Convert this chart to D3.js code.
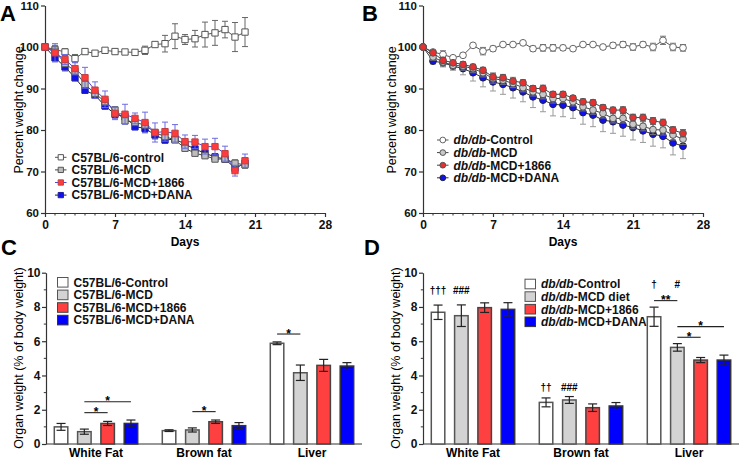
<!DOCTYPE html>
<html><head><meta charset="utf-8">
<script src="https://cdn.jsdelivr.net/npm/d3@7"></script>
<style>body{margin:0;background:#fff} svg{display:block;font-family:"Liberation Sans",Arial,sans-serif}</style>
</head><body><svg id="c" width="740" height="459"></svg>
<script>
// ---------- DATA ----------
const daysA = [0,1,2,3,4,5,6,7,8,9,10,11,12,13,14,15,16,17,18,19,20];
const daysB = [0,1,2,3,4,5,6,7,8,9,10,11,12,13,14,15,16,17,18,19,20,21,22,23,24,25,26];
const dayTicks = [0,7,14,21,28];
const pctTicks = [60,70,80,90,100,110];

const namesA = ["C57BL/6-control","C57BL/6-MCD","C57BL/6-MCD+1866","C57BL/6-MCD+DANA"];
const ctrlA = [100,99.4,98.8,97.2,98.9,98.5,99.2,98.9,98.8,98.7,99.2,100.6,100.8,102.6,101.8,102,103,103.4,104.2,102.4,103.6];
const ctrlAErr = [0,1,0.8,1,0.4,0.3,0.4,0.5,0.5,0.5,1,0.5,2,3,1.2,2,3,3,2,3.5,3.5];
const mcdA = [100,99,96,94.2,91,88.8,86.8,84.8,82.2,81.8,81.2,79.4,78.4,77.6,75.6,74.4,73.8,73,73,72,71.6];
const mcdAErr = [0,0.5,0.7,0.8,0.8,0.8,0.8,0.8,0.6,0.6,0.6,0.6,0.6,0.6,0.5,0.5,0.5,0.6,0.6,0.8,0.8];
const r1866A = [100,98.6,97,94.8,92.6,89.6,87.4,84,83.8,82.8,81.8,79.4,79.6,79.2,77.2,77.1,76,76,74.3,70.2,72.6];
const r1866AErr = [0,2.2,1.2,1.5,2.5,2,2,1.5,2.4,1.3,2.5,2.3,2.3,2.1,1.6,1.6,1.8,2,1.8,1.3,1.6];
const danaA = [100,97.4,95.2,92.6,89.6,88.4,85.8,83.8,83.2,80.8,80.4,78.8,77.6,77.8,76.6,75.4,74.4,73.5,73,70.8,72];
const danaAErr = [0,0.8,1,0.8,0.8,0.8,0.8,1,1,0.8,1,1,0.8,0.8,0.8,0.8,0.8,0.8,0.8,1,1];

const namesB = ["-Control","-MCD","-MCD+1866","-MCD+DANA"];
const ctrlB = [100,98.8,98.2,97.4,98,100.4,99,99.6,100.6,100.6,101,99.6,99.8,99.8,99.8,99.6,100.6,100.6,100,100.4,100.6,100,100.6,100,101.6,100,99.8];
const ctrlBErr = [0,0.5,0.9,0.5,0.5,0.3,0.9,0.6,0.3,0.5,0.3,0.6,0.8,0.8,0.6,0.5,0.3,0.3,0.5,0.6,0.7,0.8,0.6,0.9,1,0.9,0.8];
const mcdB = [100,97.6,96.4,95.6,95.4,94.8,93.8,92.4,92,91.2,90.2,89.2,88.6,87.6,87.6,86.8,85.6,84.8,84,82.8,82.8,81.4,80.9,80.1,80,78.8,77.8];
const mcdBErr = [0,0.8,1,0.9,1,1,1,1.1,1,1,1,1,1.1,1.1,1,1,1,1,1.1,1.1,1.1,1.1,1.1,1.2,1.2,1.2,1.3];
const r1866B = [100,98.6,96.8,96.2,95.8,95.2,94.4,92.8,92.6,91.8,91.4,90,90,88.6,88.6,87.7,86.8,86.6,85.4,84.8,84.8,83,83,82.2,81.8,80,79.2];
const r1866BErr = [0,0.6,0.7,0.6,0.6,0.6,0.7,0.7,0.7,0.7,0.7,0.7,0.8,0.7,0.7,0.6,0.7,0.7,0.7,0.7,0.8,0.8,0.8,0.8,0.8,0.8,0.9];
const danaB = [100,96.6,96.2,95.4,94.8,93.8,92.6,91.6,91,90.2,89.2,88,87.2,86.2,86,85.4,84.2,83.6,82.4,82,81.2,80.6,79.8,79,78.5,76.9,76.1];
const danaBErr = [0,0.7,1,1,1.5,2,2.2,2.2,2.4,2.5,2.4,2.6,2.8,2.8,2.8,2.6,2.8,2.8,2.8,2.8,2.7,3,2.8,2.9,2.8,2.9,3];

const organs = ["White Fat","Brown fat","Liver"];
const organTicks = [0,2,4,6,8,10];
const namesC = ["C57BL/6-Control","C57BL/6-MCD","C57BL/6-MCD+1866","C57BL/6-MCD+DANA"];
const ctrlC = [1.0,0.78,5.88],   ctrlCErr = [0.2,0.05,0.08];
const mcdC = [0.72,0.82,4.16],   mcdCErr = [0.15,0.12,0.45];
const r1866C = [1.2,1.3,4.59],   r1866CErr = [0.12,0.1,0.35];
const danaC = [1.2,1.07,4.55],   danaCErr = [0.2,0.18,0.2];
const sigC = [{g:0,a:1,b:2,level:1.83,t:"*"},{g:0,a:1,b:3,level:2.47,t:"*"},{g:1,a:1,b:2,level:1.89,t:"*"},{g:2,a:0,b:1,level:6.42,t:"*"}];

const namesD = ["-Control","-MCD diet","-MCD+1866","-MCD+DANA"];
const ctrlD = [7.69,2.43,7.43],  ctrlDErr = [0.42,0.26,0.56];
const mcdD = [7.49,2.57,5.64],   mcdDErr = [0.63,0.2,0.22];
const r1866D = [7.96,2.12,4.9],  r1866DErr = [0.28,0.22,0.15];
const danaD = [7.86,2.22,4.9],   danaDErr = [0.39,0.2,0.29];
const sigD = [{g:2,a:0,b:1,level:8.37,t:"**"},{g:2,a:1,b:2,level:6.23,t:"*"},{g:2,a:1,b:3,level:6.85,t:"*"}];
const marksD = [{g:0,s:0,level:8.76,t:"†††"},{g:0,s:1,level:8.76,t:"###"},{g:1,s:0,level:3.12,t:"††"},{g:1,s:1,level:3.12,t:"###"},{g:2,s:0,level:9.12,t:"†"},{g:2,s:1,level:9.12,t:"#"}];

// ---------- DRAW ----------
const svg = d3.select("#c");
const FF = '"Liberation Sans",Arial,sans-serif';
const AX = "#333";

function styleAxis(g, fs){
  g.attr("font-family", FF).attr("font-size", fs).attr("font-weight","bold");
  g.selectAll("path.domain").attr("stroke", AX).attr("stroke-width",1.2);
  g.selectAll(".tick line").attr("stroke", AX).attr("stroke-width",1.2);
  g.selectAll("text").attr("fill","#111");
}

function panelLabel(t,x,y){
  svg.append("text").attr("x",x).attr("y",y).attr("font-size",22).attr("font-weight","bold").attr("font-family",FF).text(t);
}

function lineChart(cfg){
  const x = d3.scaleLinear().domain([0,28]).range([cfg.x0, cfg.x0+280]);
  const y = d3.scaleLinear().domain([60,110]).range([213,5.5]);
  const g = svg.append("g");
  const ya = g.append("g").attr("transform",`translate(${cfg.x0},0)`)
    .call(d3.axisLeft(y).tickValues(pctTicks).tickSize(4).tickPadding(2).tickSizeOuter(0));
  styleAxis(ya,11.5);
  const xa = g.append("g").attr("transform",`translate(0,213)`)
    .call(d3.axisBottom(x).tickValues(dayTicks).tickSize(4).tickPadding(3).tickSizeOuter(0));
  styleAxis(xa,12);
  xa.selectAll("line.minor").data(d3.range(0,29).filter(d=>d%7)).enter().append("line")
    .attr("x1",d=>x(d)).attr("x2",d=>x(d)).attr("y1",0).attr("y2",2.5).attr("stroke",AX).attr("stroke-width",1);
  g.append("text").attr("x",cfg.x0+140).attr("y",246).attr("text-anchor","middle")
    .attr("font-size",12).attr("font-weight","bold").attr("font-family",FF).text("Days");
  g.append("text").attr("transform",`translate(${cfg.tx},110) rotate(-90)`).attr("text-anchor","middle")
    .attr("font-size",12.5).attr("font-family",FF).text("Percent weight change");

  cfg.order.forEach(i=>{
    const s = cfg.series[i];
    const pts = cfg.days.map((d,k)=>({d, v:s.v[k], e:s.e[k]}));
    const eg = g.append("g").attr("stroke", s.errColor).attr("stroke-width",1);
    pts.filter(p=>p.e>0).forEach(p=>{
      eg.append("line").attr("x1",x(p.d)).attr("x2",x(p.d)).attr("y1",y(p.v+p.e)).attr("y2",y(p.v-p.e));
      eg.append("line").attr("x1",x(p.d)-3).attr("x2",x(p.d)+3).attr("y1",y(p.v+p.e)).attr("y2",y(p.v+p.e));
      eg.append("line").attr("x1",x(p.d)-3).attr("x2",x(p.d)+3).attr("y1",y(p.v-p.e)).attr("y2",y(p.v-p.e));
    });
    g.append("path").datum(pts).attr("fill","none").attr("stroke",s.lineColor).attr("stroke-width",1)
      .attr("d", d3.line().x(p=>x(p.d)).y(p=>y(p.v)));
    const sym = d3.symbol().type(cfg.shape==="square"?d3.symbolSquare:d3.symbolCircle).size(cfg.shape==="square"?40:36);
    g.append("g").selectAll("path").data(pts).enter().append("path")
      .attr("transform",p=>`translate(${x(p.d)},${y(p.v)})`).attr("d",sym)
      .attr("fill",s.fill).attr("stroke",s.stroke).attr("stroke-width",1);
  });
  const lg = g.append("g");
  cfg.series.forEach((s,i)=>{
    const yy = cfg.ly + i*12.6;
    lg.append("line").attr("x1",cfg.lx).attr("x2",cfg.lx+11.5).attr("y1",yy).attr("y2",yy).attr("stroke",s.lineColor).attr("stroke-width",1);
    const sym = d3.symbol().type(cfg.shape==="square"?d3.symbolSquare:d3.symbolCircle).size(cfg.shape==="square"?28:26);
    lg.append("path").attr("transform",`translate(${cfg.lx+5.8},${yy})`).attr("d",sym)
      .attr("fill",s.fill).attr("stroke",s.stroke).attr("stroke-width",1);
    const t = lg.append("text").attr("x",cfg.lx+16.5).attr("y",yy+4.3).attr("font-size",12).attr("font-weight","bold").attr("font-family",FF).attr("fill","#111");
    if(cfg.italicPrefix){ t.append("tspan").attr("font-style","italic").text(cfg.italicPrefix); }
    t.append("tspan").text(s.name);
  });
}

lineChart({x0:45, tx:23, days:daysA, shape:"square", lx:55, ly:157.3, order:[0,3,1,2],
  series:[
    {name:namesA[0], v:ctrlA, e:ctrlAErr, fill:"#fff", stroke:"#555", lineColor:"#555", errColor:"#666"},
    {name:namesA[1], v:mcdA, e:mcdAErr, fill:"#bdbdbd", stroke:"#555", lineColor:"#444", errColor:"#666"},
    {name:namesA[2], v:r1866A, e:r1866AErr, fill:"#ff3b3b", stroke:"#c04040", lineColor:"#4a4ad0", errColor:"#6b6be0"},
    {name:namesA[3], v:danaA, e:danaAErr, fill:"#1010f0", stroke:"#2020a0", lineColor:"#222", errColor:"#6b6be0"}
  ]});

lineChart({x0:423, tx:396, days:daysB, shape:"circle", lx:437, ly:140, order:[0,3,1,2], italicPrefix:"db/db",
  series:[
    {name:namesB[0], v:ctrlB, e:ctrlBErr, fill:"#fff", stroke:"#666", lineColor:"#555", errColor:"#777"},
    {name:namesB[1], v:mcdB, e:mcdBErr, fill:"#c8c8c8", stroke:"#555", lineColor:"#444", errColor:"#777"},
    {name:namesB[2], v:r1866B, e:r1866BErr, fill:"#e83030", stroke:"#555", lineColor:"#444", errColor:"#666"},
    {name:namesB[3], v:danaB, e:danaBErr, fill:"#1010f0", stroke:"#223", lineColor:"#333", errColor:"#999"}
  ]});

function barChart(cfg){
  const y = d3.scaleLinear().domain([0,10]).range([444,272.7]);
  const gx = d3.scalePoint().domain(organs).range([cfg.x0+50, cfg.x0+266]);
  const sx = d3.scaleBand().domain([0,1,2,3]).range([-46.6,46.6]).paddingInner(0.356).paddingOuter(0.178);
  const g = svg.append("g");
  const ya = g.append("g").attr("transform",`translate(${cfg.x0},0)`)
    .call(d3.axisLeft(y).tickValues(organTicks).tickSize(4).tickPadding(1.5).tickSizeOuter(0));
  styleAxis(ya,12);
  ya.selectAll("line.minor").data([1,3,5,7,9]).enter().append("line")
    .attr("x1",0).attr("x2",-2.2).attr("y1",d=>y(d)).attr("y2",d=>y(d)).attr("stroke",AX).attr("stroke-width",1);
  g.append("line").attr("x1",cfg.x0).attr("x2",cfg.x0+316).attr("y1",444).attr("y2",444).attr("stroke",AX).attr("stroke-width",1.2);
  g.append("text").attr("transform",`translate(${cfg.x0-23},358) rotate(-90)`).attr("text-anchor","middle")
    .attr("font-size",12.5).attr("font-family",FF).text("Organ weight (% of body weight)");
  organs.forEach(o=>{
    g.append("text").attr("x",gx(o)).attr("y",456.5).attr("text-anchor","middle").attr("font-size",12)
      .attr("font-weight","bold").attr("font-family",FF).text(o);
  });
  cfg.series.forEach((s,i)=>{
    organs.forEach((o,k)=>{
      const cx = gx(o)+sx(i);
      g.append("rect").attr("x",cx+0.75).attr("y",y(s.v[k])).attr("width",sx.bandwidth()-1.5).attr("height",444-y(s.v[k]))
        .attr("fill",s.fill).attr("stroke",s.stroke).attr("stroke-width",1.5);
      const m = cx+sx.bandwidth()/2, t=y(s.v[k]+s.e[k]), b=y(s.v[k]-s.e[k]);
      const eg = g.append("g").attr("stroke","#222").attr("stroke-width",1.2);
      eg.append("line").attr("x1",m).attr("x2",m).attr("y1",t).attr("y2",b);
      eg.append("line").attr("x1",m-4.5).attr("x2",m+4.5).attr("y1",t).attr("y2",t);
      eg.append("line").attr("x1",m-4.5).attr("x2",m+4.5).attr("y1",b).attr("y2",b);
    });
  });
  const center = (gi,si)=>gx(organs[gi])+sx(si)+sx.bandwidth()/2;
  cfg.sig.forEach(s=>{
    const x1=center(s.g,s.a), x2=center(s.g,s.b), yy=y(s.level);
    g.append("line").attr("x1",x1).attr("x2",x2).attr("y1",yy).attr("y2",yy).attr("stroke","#222").attr("stroke-width",1.1);
    g.append("text").attr("x",(x1+x2)/2).attr("y",yy+3.5).attr("text-anchor","middle").attr("font-size",12)
      .attr("font-weight","bold").attr("font-family",FF).text(s.t);
  });
  (cfg.marks||[]).forEach(s=>{
    g.append("text").attr("x",center(s.g,s.s)).attr("y",y(s.level)).attr("text-anchor","middle").attr("font-size",10)
      .attr("font-weight","bold").attr("font-family",FF).text(s.t);
  });
  cfg.series.forEach((s,i)=>{
    const yy = cfg.ly + i*cfg.lstep;
    g.append("rect").attr("x",cfg.lx).attr("y",yy-4.8).attr("width",10.5).attr("height",9.6)
      .attr("fill",s.fill).attr("stroke",s.stroke).attr("stroke-width",1);
    const t = g.append("text").attr("x",cfg.lx+16).attr("y",yy+4.3).attr("font-size",12).attr("font-weight","bold").attr("font-family",FF).attr("fill","#111");
    if(cfg.italicPrefix) t.append("tspan").attr("font-style","italic").text(cfg.italicPrefix);
    t.append("tspan").text(s.name);
  });
}

const barStyles = [
  {fill:"#fff", stroke:"#555"},{fill:"#d3d3d3", stroke:"#555"},{fill:"#ff4040", stroke:"#444"},{fill:"#0000ff", stroke:"#333"}
];
barChart({x0:46, lx:57.5, ly:282.3, lstep:12.6, sig:sigC,
  series:[
    Object.assign({name:namesC[0], v:ctrlC, e:ctrlCErr}, barStyles[0]),
    Object.assign({name:namesC[1], v:mcdC, e:mcdCErr}, barStyles[1]),
    Object.assign({name:namesC[2], v:r1866C, e:r1866CErr}, barStyles[2]),
    Object.assign({name:namesC[3], v:danaC, e:danaCErr}, barStyles[3])
  ]});
barChart({x0:423, lx:525, ly:284, lstep:12.6, sig:sigD, marks:marksD, italicPrefix:"db/db",
  series:[
    Object.assign({name:namesD[0], v:ctrlD, e:ctrlDErr}, barStyles[0]),
    Object.assign({name:namesD[1], v:mcdD, e:mcdDErr}, barStyles[1]),
    Object.assign({name:namesD[2], v:r1866D, e:r1866DErr}, barStyles[2]),
    Object.assign({name:namesD[3], v:danaD, e:danaDErr}, barStyles[3])
  ]});

panelLabel("A",0,21);
panelLabel("B",362,21);
panelLabel("C",1,255);
panelLabel("D",364,255);
</script></body></html>
